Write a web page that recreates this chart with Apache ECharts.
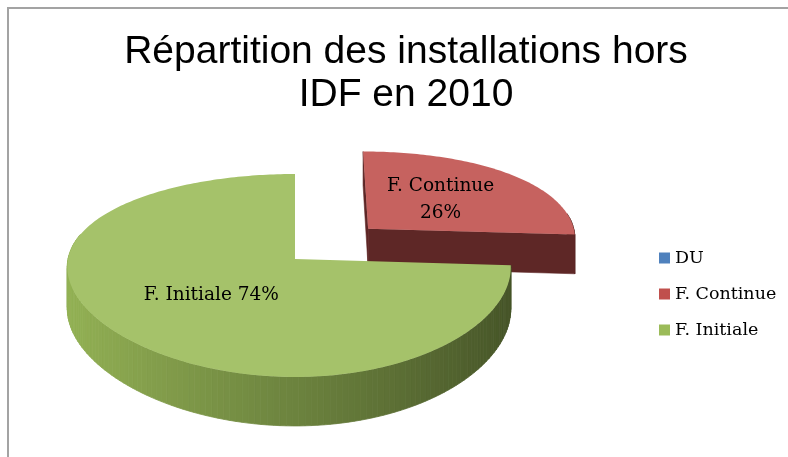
<!DOCTYPE html>
<html><head><meta charset="utf-8">
<script src="https://cdn.jsdelivr.net/npm/echarts@6/dist/echarts.min.js"></script>
<style>html,body{margin:0;padding:0;background:#fff}#c{width:788px;height:457px}</style>
</head><body><div id="c"></div>
<script>
// ---- data ----
const categories = ['DU', 'F. Continue', 'F. Initiale'];
const values = [0, 26, 74];
const titleText = 'Répartition des installations hors\nIDF en 2010';

// ---- style ----
const baseColors = ['#4F81BD', '#C0504D', '#9BBB59'];
const PIE = {cx: 295, cy: 259, rx: 221, ry: 98.8, persp: 0.1625, kx: 0.5, skew: 0.027, depth: 41, labelR: 0.5};
const EXPLODE = {'F. Continue': 0.47};
const LABEL_FONT = 'DejaVu Serif';

function hexToRgb(h){ h = h.replace('#',''); return [0,2,4].map(i => parseInt(h.substr(i,2),16)); }
function shade(rgb, f){ return 'rgb(' + rgb.map(c => Math.round(Math.max(0, Math.min(255, c*f)))).join(',') + ')'; }
function lighten(rgb, a){ return 'rgb(' + rgb.map(c => Math.round(c + (255-c)*a)).join(',') + ')'; }

const total = values.reduce((a,b) => a+b, 0);
function proj(u, v, h){
  const s = 1 / (1 - PIE.persp * v);
  return [PIE.cx + PIE.rx * u * (1 - PIE.skew * u) * Math.pow(s, PIE.kx),
          PIE.cy + PIE.ry * v * s + PIE.depth * h * s];
}

function makeRender(i){
  return function(params, api){
    const val = api.value(0);
    if (!(val > 0)) return {type: 'group', children: []};
    let before = 0; for (let k = 0; k < i; k++) before += values[k];
    const TWO = Math.PI * 2;
    const a1 = before / total * TWO, a2 = (before + val) / total * TWO;
    const mid = (a1 + a2) / 2;
    const e = EXPLODE[categories[i]] || 0;
    const ou = e * Math.sin(mid), ov = -e * Math.cos(mid);
    const pt = (a, r, h) => proj(ou + r * Math.sin(a), ov - r * Math.cos(a), h);
    const rgb = hexToRgb(baseColors[i]);
    const children = [];
    const deg = Math.PI / 180;
    // outer wall
    const w1 = Math.max(a1, 80 * deg), w2 = Math.min(a2, 285 * deg);
    const step = 1.5 * deg;
    for (let a = w1; a < w2 - 1e-9; a += step) {
      const b = Math.min(a + step, w2);
      const f = 0.7 - 0.25 * Math.sin((a + b) / 2);
      const col = shade(rgb, f);
      children.push({type: 'polygon', shape: {points: [pt(a,1,0), pt(b,1,0), pt(b,1,1), pt(a,1,1)]},
        style: {fill: col, stroke: col, lineWidth: 0.8}});
    }
    // radial faces
    const C = [0, 1 / PIE.persp];
    [[a1, a1 - Math.PI/2], [a2, a2 + Math.PI/2]].forEach(([a, na]) => {
      const n = [Math.sin(na), -Math.cos(na)];
      const dot = (C[0] - ou) * n[0] + (C[1] - ov) * n[1];
      if (dot > 0.01) {
        const col = shade(rgb, 0.49);
        children.push({type: 'polygon', shape: {points: [pt(a,0,0), pt(a,1,0), pt(a,1,1), pt(a,0,1)]},
          style: {fill: col, stroke: col, lineWidth: 0.6}});
      }
    });
    // top face
    const top = [pt(0,0,0)];
    const n = Math.max(2, Math.ceil((a2 - a1) / deg));
    for (let k = 0; k <= n; k++) top.push(pt(a1 + (a2 - a1) * k / n, 1, 0));
    children.push({type: 'polygon', shape: {points: top}, style: {fill: lighten(rgb, 0.1), stroke: 'none'}});
    // label
    const lp = pt(mid, PIE.labelR, 0);
    const pct = Math.round(val / total * 100);
    const txt = categories[i] + (val / total < 0.5 ? '\n' : ' ') + pct + '%';
    children.push({type: 'text', x: lp[0], y: lp[1], z2: 100,
      style: {text: txt, fill: '#000', fontFamily: LABEL_FONT, fontSize: 18.5, lineHeight: 27,
              align: 'center', verticalAlign: 'middle'}});
    return {type: 'group', children};
  };
}

const chart = echarts.init(document.getElementById('c'), null, {renderer: 'canvas'});
chart.setOption({
  animation: false,
  backgroundColor: '#fff',
  title: {
    text: titleText, left: 401, textAlign: 'center', top: 26,
    textStyle: {fontFamily: 'Liberation Sans', fontSize: 39, fontWeight: 'normal', color: '#000', lineHeight: 43}
  },
  legend: {
    orient: 'vertical', left: 654, top: 243, icon: 'rect', itemWidth: 11, itemHeight: 11, itemGap: 16,
    selectedMode: false, data: categories,
    textStyle: {fontFamily: LABEL_FONT, fontSize: 17.5, color: '#000', lineHeight: 20}
  },
  graphic: [{type: 'rect', z: -10, shape: {x: 8, y: 8, width: 800, height: 480},
    style: {fill: 'none', stroke: '#a3a3a3', lineWidth: 2}}],
  series: categories.map((name, i) => ({
    type: 'custom', name, coordinateSystem: 'none', z: 2 + i,
    itemStyle: {color: baseColors[i]},
    renderItem: makeRender(i),
    data: [[values[i]]]
  }))
});
</script></body></html>
